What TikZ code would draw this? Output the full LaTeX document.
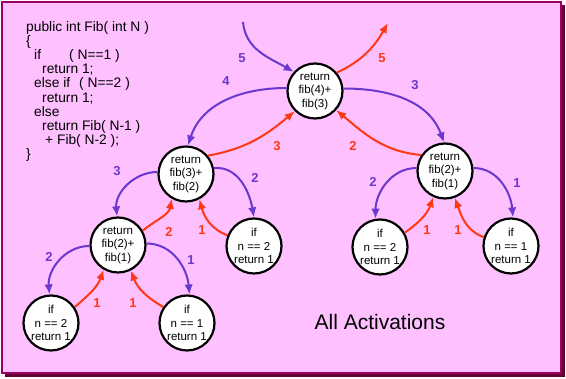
\documentclass[tikz,border=0pt]{standalone}
\usepackage{fontspec}
\setmainfont{Liberation Sans}
\usepackage{xcolor}
\usepackage{tikz}
\usetikzlibrary{arrows.meta}
\definecolor{callpurple}{RGB}{106,56,206}
\definecolor{returnred}{RGB}{255,56,20}
\definecolor{framemagenta}{RGB}{153,0,102}
\definecolor{shadowdark}{RGB}{102,0,51}
\definecolor{bgpink}{RGB}{255,192,255}
\tikzset{
  activationbox/.style={circle,draw=black,fill=white,line width=2.2pt,align=center,
    minimum size=55pt,inner sep=0pt,font=\fontsize{11.5}{13.5}\selectfont},
  callarrow/.style={-{Latex[length=10pt,width=8.5pt]},line width=2pt,draw=callpurple},
  returnarrow/.style={-{Latex[length=10pt,width=8.5pt]},line width=2pt,draw=returnred},
  calllabel/.style={text=callpurple,font=\fontsize{13}{13}\selectfont\bfseries},
  returnlabel/.style={text=returnred,font=\fontsize{13}{13}\selectfont\bfseries},
  codelabel/.style={align=left,inner sep=0pt,font=\fontsize{13.8}{14.2}\selectfont},
  titlelabel/.style={font=\fontsize{21}{24}\selectfont}
}

\begin{document}
\begin{tikzpicture}[x=1pt,y=1pt]
  \useasboundingbox (0,0) rectangle (566,379);
  \fill[shadowdark] (5,2) rectangle (565,374);
  \draw[framemagenta,line width=2.5pt,fill=bgpink] (2,6) rectangle (561,377);

  \node[codelabel,anchor=north west] (code) at (26,358) {public int Fib( int N )\\
    \{\\
    \hspace*{8pt}\makebox[35pt][l]{if}( N==1 )\\
    \hspace*{16pt}return 1;\\
    \hspace*{8pt}else if\hspace{9pt}( N==2 )\\
    \hspace*{16pt}return 1;\\
    \hspace*{8pt}else\\
    \hspace*{16pt}return Fib( N-1 )\\
    \hspace*{19pt}+ Fib( N-2 );\\
    \}};

  \node[activationbox] (top) at (315,288) {return\\fib(4)+\\fib(3)};
  \node[activationbox] (f3) at (186,205) {return\\fib(3)+\\fib(2)};
  \node[activationbox] (rf) at (445,208) {return\\fib(2)+\\fib(1)};
  \node[activationbox] (f2) at (118,134) {return\\fib(2)+\\fib(1)};
  \node[activationbox] (e2a) at (254,133) {if\\n == 2\\return 1};
  \node[activationbox] (e2b) at (380,132) {if\\n == 2\\return 1};
  \node[activationbox] (e1b) at (511,133) {if\\n == 1\\return 1};
  \node[activationbox] (e2c) at (51,56) {if\\n == 2\\return 1};
  \node[activationbox] (e1c) at (187,56) {if\\n == 1\\return 1};
  \coordinate (callin) at (243,357);
  \coordinate (retout) at (388,356);

  \draw[callarrow] (callin) to[out=-85,in=150] (top.138);
  \draw[returnarrow] (top.40) to[out=25,in=240] (retout);
  \draw[callarrow] (top.174) to[out=180,in=72] (f3.86);
  \draw[returnarrow] (f3.40) to[out=10,in=220] (top.225);
  \draw[callarrow] (top.5) to[out=0,in=110] (rf.92);
  \draw[returnarrow] (rf.146) to[out=175,in=-40] (top.-42);

  \draw[callarrow] (f3.176) to[out=180,in=95] (f2.92);
  \draw[returnarrow] (f2.30) to[out=40,in=260] (f3.240);
  \draw[callarrow] (f3.12) to[out=5,in=100] (e2a.90);
  \draw[returnarrow] (e2a.158) to[out=160,in=-75] (f3.-62);

  \draw[callarrow] (f2.182) to[out=180,in=95] (e2c.93);
  \draw[returnarrow] (e2c.34) to[out=40,in=250] (f2.240);
  \draw[callarrow] (f2.3) to[out=0,in=95] (e1c.85);
  \draw[returnarrow] (e1c.146) to[out=150,in=-70] (f2.-63);

  \draw[callarrow] (rf.174) to[out=180,in=90] (e2b.99);
  \draw[returnarrow] (e2b.30) to[out=35,in=250] (rf.246);
  \draw[callarrow] (rf.6) to[out=0,in=95] (e1b.86);
  \draw[returnarrow] (e1b.162) to[out=160,in=-70] (rf.-70);

  \node[calllabel] (lin) at (242,321) {5};
  \node[returnlabel] (lout) at (382,321) {5};
  \node[calllabel] (ltopf3) at (226,298) {4};
  \node[returnlabel] (lf3top) at (277,233) {3};
  \node[calllabel] (ltoprf) at (415,294) {3};
  \node[returnlabel] (lrftop) at (353,233) {2};
  \node[calllabel] (lf3f2) at (117,208) {3};
  \node[returnlabel] (lf2f3) at (169,147) {2};
  \node[calllabel] (lf3e2a) at (255,201) {2};
  \node[returnlabel] (le2af3) at (202,149) {1};
  \node[calllabel] (lf2e2c) at (49,122) {2};
  \node[returnlabel] (le2cf2) at (97,76) {1};
  \node[calllabel] (lf2e1c) at (191,119) {1};
  \node[returnlabel] (le1cf2) at (133,76) {1};
  \node[calllabel] (lrfe2b) at (373,197) {2};
  \node[returnlabel] (le2brf) at (427,149) {1};
  \node[calllabel] (lrfe1b) at (517,196) {1};
  \node[returnlabel] (le1brf) at (458,149) {1};

  \node[titlelabel] (title) at (380,57) {All Activations};
\end{tikzpicture}
\end{document}
